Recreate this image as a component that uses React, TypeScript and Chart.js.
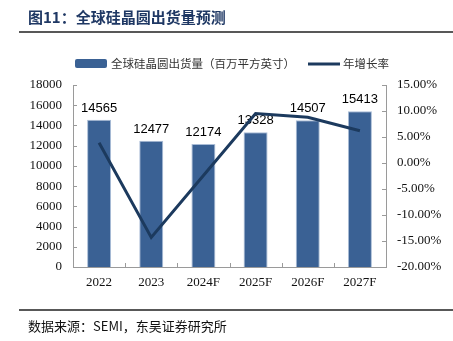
import React, { useEffect, useRef } from "react";
import { Chart, registerables } from "chart.js";

Chart.register(...registerables);

const categories = ["2022", "2023", "2024F", "2025F", "2026F", "2027F"];
const shipments = [14565, 12477, 12174, 13328, 14507, 15413];
const growthRate = [3.9, -14.3, -2.4, 9.5, 8.8, 6.2];
const leftTicks = [0, 2000, 4000, 6000, 8000, 10000, 12000, 14000, 16000, 18000];
const rightTicks = [-20, -15, -10, -5, 0, 5, 10, 15];

const titleText = "图11：全球硅晶圆出货量预测";
const sourceText = "数据来源：SEMI，东吴证券研究所";
const barLabel = "全球硅晶圆出货量（百万平方英寸）";
const lineLabel = "年增长率";

const BAR_COLOR = "#3a6194";
const LINE_COLOR = "#1c3a5e";
const AXIS_COLOR = "#9a9a9a";
const CJK = '"Noto Sans CJK SC", "Noto Sans", sans-serif';
const SERIF = '"Liberation Serif", "DejaVu Serif", serif';

const decorPlugin = {
  id: "decor",
  afterDatasetDraw(chart: any, args: any) {
    if (args.index !== 0) return;
    const ctx = chart.ctx;
    const meta = chart.getDatasetMeta(0);
    ctx.save();
    ctx.font = '13px "Liberation Sans", Arial, sans-serif';
    ctx.fillStyle = "#000";
    ctx.textAlign = "center";
    ctx.textBaseline = "alphabetic";
    meta.data.forEach((bar: any, i: number) => {
      ctx.fillText(String(shipments[i]), bar.x, bar.y - 8);
    });
    ctx.restore();
  },
  afterDraw(chart: any) {
    const ctx = chart.ctx;
    const area = chart.chartArea;
    ctx.save();
    // title
    ctx.fillStyle = "#1f3864";
    ctx.textBaseline = "middle";
    ctx.textAlign = "left";
    ctx.font = 'bold 15px ' + CJK;
    ctx.fillText(titleText, 28, 17);
    // rules
    ctx.strokeStyle = "#222";
    ctx.lineWidth = 1.5;
    ctx.beginPath();
    ctx.moveTo(19, 32);
    ctx.lineTo(453, 32);
    ctx.moveTo(19, 310);
    ctx.lineTo(453, 310);
    ctx.stroke();
    // source
    ctx.fillStyle = "#111";
    ctx.font = '13px ' + CJK;
    ctx.fillText(sourceText, 28, 326);
    // legend
    ctx.fillStyle = BAR_COLOR;
    ctx.beginPath();
    (ctx as any).roundRect(75, 59, 32, 9, 2);
    ctx.fill();
    ctx.fillStyle = "#333";
    ctx.font = '11.5px ' + CJK;
    ctx.fillText(barLabel, 111, 64);
    ctx.strokeStyle = LINE_COLOR;
    ctx.lineWidth = 3;
    ctx.beginPath();
    ctx.moveTo(308, 64);
    ctx.lineTo(340, 64);
    ctx.stroke();
    ctx.fillText(lineLabel, 343, 64);
    // inner ticks
    ctx.strokeStyle = AXIS_COLOR;
    ctx.lineWidth = 1;
    ctx.beginPath();
    const y = chart.scales.y;
    const y1 = chart.scales.y1;
    leftTicks.forEach((v) => {
      const py = Math.round(y.getPixelForValue(v)) + 0.5;
      ctx.moveTo(area.left, py);
      ctx.lineTo(area.left + 4, py);
    });
    rightTicks.forEach((v) => {
      const py = Math.round(y1.getPixelForValue(v)) + 0.5;
      ctx.moveTo(area.right, py);
      ctx.lineTo(area.right - 4, py);
    });
    const step = (area.right - area.left) / categories.length;
    for (let i = 0; i <= categories.length; i++) {
      const px = Math.round(area.left + i * step) + 0.5;
      ctx.moveTo(px, area.bottom);
      ctx.lineTo(px, area.bottom - 4);
    }
    ctx.stroke();
    ctx.restore();
  },
};

export default function App() {
  const ref = useRef<HTMLCanvasElement | null>(null);
  useEffect(() => {
    if (!ref.current) return;
    const chart = new Chart(ref.current, {
      type: "bar",
      data: {
        labels: categories,
        datasets: [
          {
            type: "bar",
            label: barLabel,
            data: shipments,
            backgroundColor: BAR_COLOR,
            borderColor: "#a9bcd6",
            borderWidth: 1,
            yAxisID: "y",
            categoryPercentage: 0.92,
            barPercentage: 0.5,
            order: 1,
          },
          {
            type: "line",
            label: lineLabel,
            data: growthRate,
            borderColor: LINE_COLOR,
            borderWidth: 3,
            pointRadius: 0,
            tension: 0,
            fill: false,
            yAxisID: "y1",
            order: 0,
          } as any,
        ],
      },
      plugins: [decorPlugin],
      options: {
        responsive: false,
        animation: false,
        devicePixelRatio: 1,
        layout: { padding: { top: 85, left: 0, right: 0, bottom: 0 } },
        plugins: {
          legend: { display: false },
          title: { display: false },
          tooltip: { enabled: false },
        },
        scales: {
          x: {
            offset: true,
            grid: { display: false, drawTicks: false },
            border: { display: true, color: AXIS_COLOR, width: 1 },
            ticks: {
              padding: 8,
              color: "#111",
              font: { family: SERIF, size: 13 },
            },
            afterFit: (s: any) => {
              s.height = 74;
            },
          },
          y: {
            position: "left",
            min: 0,
            max: 18000,
            grid: { display: false, drawTicks: false },
            border: { display: true, color: AXIS_COLOR, width: 1 },
            ticks: {
              stepSize: 2000,
              padding: 11,
              color: "#111",
              font: { family: SERIF, size: 13 },
              callback: (v: any) => String(v),
            },
            afterFit: (s: any) => {
              s.width = 73;
            },
          },
          y1: {
            position: "right",
            min: -20,
            max: 15,
            grid: { display: false, drawTicks: false },
            border: { display: true, color: AXIS_COLOR, width: 1 },
            ticks: {
              stepSize: 5,
              padding: 11,
              color: "#111",
              font: { family: SERIF, size: 13 },
              callback: (v: any) => Number(v).toFixed(2) + "%",
            },
            afterFit: (s: any) => {
              s.width = 67;
            },
          },
        },
      },
    });
    return () => chart.destroy();
  }, []);
  return (
    <div style={{ position: "fixed", left: 0, top: 0, width: 453, height: 341, background: "#fff" }}>
      <canvas ref={ref} width={453} height={341} style={{ display: "block" }} />
    </div>
  );
}
